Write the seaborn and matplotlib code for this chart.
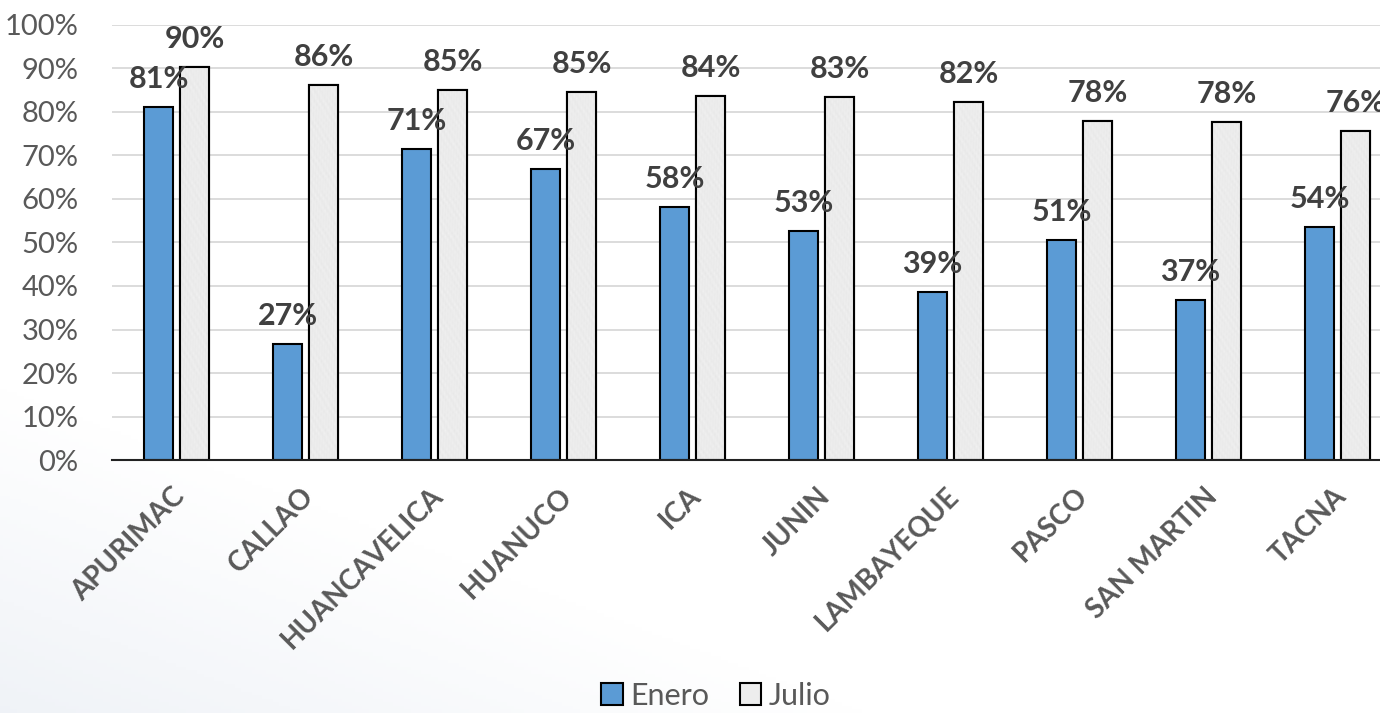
import matplotlib
matplotlib.use("Agg")
import matplotlib.pyplot as plt
import matplotlib.transforms as mtrans
from matplotlib.patches import Patch, Rectangle
import seaborn as sns
import pandas as pd
import numpy as np

categories = ["APURIMAC", "CALLAO", "HUANCAVELICA", "HUANUCO", "ICA", "JUNIN",
              "LAMBAYEQUE", "PASCO", "SAN MARTIN", "TACNA"]
enero = [81.1, 26.6, 71.4, 67.0, 58.2, 52.6, 38.7, 50.6, 36.7, 53.6]
julio = [90.4, 86.3, 85.0, 84.7, 83.6, 83.4, 82.4, 78.0, 77.8, 75.6]
series_names = ["Enero", "Julio"]
yticks = [0, 10, 20, 30, 40, 50, 60, 70, 80, 90, 100]

sns.set_theme(style="white")
plt.rcParams["font.family"] = ["Lato", "DejaVu Sans"]

df = pd.DataFrame({
    "cat": categories * 2,
    "val": enero + julio,
    "serie": [series_names[0]] * len(categories) + [series_names[1]] * len(categories),
})

fig = plt.figure(figsize=(13.8, 7.13), dpi=100)
fig.patch.set_facecolor("white")

# subtle background gradient at bottom-left
bg = fig.add_axes([0, 0, 1, 1], zorder=-10)
yy, xx = np.mgrid[0:1:200j, 0:1:400j]
d = np.clip(1 - (xx * 1.6 + yy * 2.2), 0, 1)
img = np.ones((200, 400, 3))
tint = np.array([0.90, 0.92, 0.95])
img = img * (1 - d[..., None] * 0.6) + tint * d[..., None] * 0.6
bg.imshow(img, extent=[0, 1, 0, 1], aspect="auto", origin="lower")
bg.axis("off")

ax = fig.add_axes([0.0812, 0.3548, 0.9348, 0.6102])
ax.patch.set_alpha(0)
palette = {"Enero": "#5B9BD5", "Julio": "#EDEDED"}
sns.barplot(data=df, x="cat", y="val", hue="serie", palette=palette, ax=ax,
            width=0.56, gap=0.2, edgecolor="black", linewidth=1.5,
            legend=False, errorbar=None, saturation=1)

# mottled texture on the Julio bars (decorative, deterministic pattern)
ty, tx = np.mgrid[0:120, 0:30]
tex = (np.sin(tx * 1.7 + ty * 0.9) * np.sin(ty * 1.3 - tx * 0.6)
       + 0.6 * np.sin(tx * 3.1 + ty * 2.3) * np.cos(ty * 0.7 + tx * 2.2))
tex = 0.925 + 0.025 * tex / np.abs(tex).max()
tex_rgb = np.dstack([tex, tex, tex])
for bar in ax.containers[1]:
    x0, w, h = bar.get_x(), bar.get_width(), bar.get_height()
    im = ax.imshow(tex_rgb, extent=[x0, x0 + w, 0, h], aspect="auto",
                   origin="lower", zorder=bar.get_zorder() + 0.1,
                   interpolation="bilinear")
    im.set_clip_path(bar)
    ax.add_patch(Rectangle((x0, 0), w, h, fill=False, edgecolor="black",
                           linewidth=1.5, zorder=bar.get_zorder() + 0.2))

ax.set_ylim(0, 100)
ax.set_xlim(-0.5, len(categories) - 0.5)
ax.set_aspect("auto")
ax.set_yticks(yticks)
ax.set_yticklabels([f"{t}%" for t in yticks], fontsize=21, color="#595959")
ax.yaxis.grid(True, color="#D9D9D9", linewidth=1.3)
ax.set_axisbelow(True)
for s in ["top", "right", "left"]:
    ax.spines[s].set_visible(False)
ax.spines["bottom"].set_color("#222222")
ax.spines["bottom"].set_linewidth(1.5)
ax.tick_params(axis="both", length=0)
ax.tick_params(axis="y", pad=24)
ax.set_xlabel("")
ax.set_ylabel("")

ax.set_xticks(range(len(categories)))
ax.set_xticklabels(categories, rotation=45, ha="right", va="top",
                   rotation_mode="anchor", fontsize=20, fontweight="bold",
                   color="#595959")
off = mtrans.ScaledTranslation(-5 / 100, -18 / 100, fig.dpi_scale_trans)
for lbl in ax.get_xticklabels():
    lbl.set_transform(lbl.get_transform() + off)

for cont in ax.containers:
    for bar in cont:
        h = bar.get_height()
        ax.annotate(f"{h:.0f}%", (bar.get_x() + bar.get_width() / 2, h),
                    xytext=(0, 10), textcoords="offset points",
                    ha="center", va="bottom", fontsize=22, fontweight="bold",
                    color="#404040", zorder=5)

handles = [Patch(facecolor=palette[n], edgecolor="black", linewidth=1.5, label=n)
           for n in series_names]
fig.legend(handles=handles, loc="lower center", ncol=2, frameon=False,
           fontsize=22, labelcolor="#595959", bbox_to_anchor=(0.519, -0.034),
           handlelength=0.7, handleheight=0.7, handletextpad=0.25, columnspacing=1.0)

fig.savefig("out.png", dpi=100)
